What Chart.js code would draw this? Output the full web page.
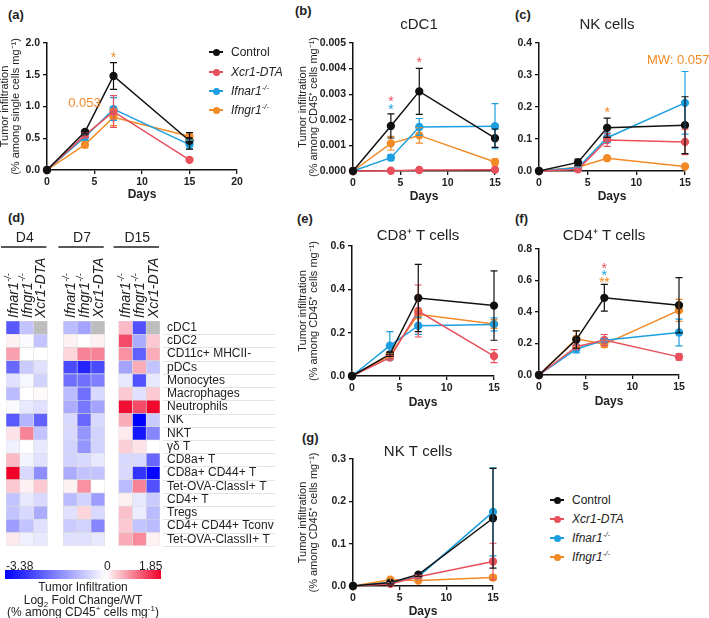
<!DOCTYPE html>
<html><head><meta charset="utf-8">
<script src="https://cdn.jsdelivr.net/npm/chart.js@4"></script>
<style>
html,body{margin:0;padding:0;width:709px;height:618px;overflow:hidden;background:#fff;font-family:"Liberation Sans",Arial,sans-serif;color:#222}
canvas{position:absolute}
.plab{position:absolute;font-weight:bold;font-size:13px;line-height:15px}
.legrow{position:absolute;height:18px;width:130px;font-size:12px;line-height:18px}
.legrow .mk{position:absolute;left:0;top:8px;width:14px;height:1.6px}
.legrow .dot{position:absolute;left:3.5px;top:5.5px;width:7px;height:7px;border-radius:50%}
.legrow .tx{position:absolute;left:22px;top:0;white-space:nowrap}
sup{font-size:8px;vertical-align:5px;line-height:0}
sub{font-size:8px;vertical-align:-3px;line-height:0}
.cb{position:absolute;font-size:12px;line-height:14px;white-space:nowrap}
</style></head><body>
<div class="plab" style="left:8px;top:7px">(a)</div>
<div class="plab" style="left:295px;top:3px">(b)</div>
<div class="plab" style="left:515px;top:7px">(c)</div>
<div class="plab" style="left:8px;top:210px">(d)</div>
<div class="plab" style="left:297px;top:211px">(e)</div>
<div class="plab" style="left:515px;top:211px">(f)</div>
<div class="plab" style="left:302px;top:430px">(g)</div>
<canvas id="ca"></canvas><canvas id="cb"></canvas><canvas id="cc"></canvas>
<canvas id="ce"></canvas><canvas id="cf"></canvas><canvas id="cg"></canvas>
<canvas id="hm"></canvas>
<div id="colorbar" style="position:absolute;left:5px;top:570px;width:156px;height:9px"></div>
<div class="cb" style="left:6px;top:559px">-3.38</div>
<div class="cb" style="left:104px;top:559px">0</div>
<div class="cb" style="left:139px;top:559px">1.85</div>
<div class="cb" style="left:0;width:166px;text-align:center;top:580px">Tumor Infiltration</div>
<div class="cb" style="left:0;width:166px;text-align:center;top:593px">Log<sub>2</sub> Fold Change/WT</div>
<div class="cb" style="left:0;width:166px;text-align:center;top:605px">(% among CD45<sup>+</sup> cells mg<sup>-1</sup>)</div>
<script>
// ---------- shared ----------
const days = [0, 4, 7, 15];
const seriesNames = ['Control', 'Xcr1-DTA', 'Ifnar1', 'Ifngr1'];
const seriesSup = ['', '', '-/-', '-/-'];
const seriesItalic = [false, true, true, true];
const seriesColors = ['#111111', '#e8505b', '#1c9fe0', '#f28a26'];

// ---------- (a) all cells ----------
const aControl = [0, 0.60, 1.48, 0.46];   const aControlSem = [0, 0.03, 0.21, 0.13];
const aXcr1 = [0, 0.55, 0.92, 0.16];      const aXcr1Sem = [0, 0.03, 0.25, 0.02];
const aIfnar1 = [0, 0.52, 0.96, 0.40];    const aIfnar1Sem = [0, 0.05, 0.18, 0.07];
const aIfngr1 = [0, 0.40, 0.83, 0.53];    const aIfngr1Sem = [0, 0.05, 0.13, 0.06];
const aTicksY = [0, 2.0, 0.5];

// ---------- (b) cDC1 ----------
const bControl = [0, 0.00176, 0.00311, 0.00128]; const bControlSem = [0, 0.00047, 0.00090, 0.00036];
const bXcr1 = [0, 0.00001, 0.00004, 0.00005];    const bXcr1Sem = [0, 0, 0.00002, 0.00002];
const bIfnar1 = [0, 0.00052, 0.00172, 0.00175];  const bIfnar1Sem = [0, 0.00012, 0.00033, 0.00088];
const bIfngr1 = [0, 0.00108, 0.00139, 0.00035];  const bIfngr1Sem = [0, 0.00027, 0.00030, 0.00012];
const bTicksY = [0, 0.005, 0.001];

// ---------- (c) NK cells ----------
const cControl = [0, 0.027, 0.135, 0.143]; const cControlSem = [0, 0.010, 0.030, 0.089];
const cXcr1 = [0, 0.005, 0.097, 0.091];    const cXcr1Sem = [0, 0.003, 0.020, 0.040];
const cIfnar1 = [0, 0.010, 0.104, 0.213];  const cIfnar1Sem = [0, 0.003, 0.015, 0.098];
const cIfngr1 = [0, 0.012, 0.040, 0.014];  const cIfngr1Sem = [0, 0.003, 0.006, 0.003];
const cTicksY = [0, 0.4, 0.1];

// ---------- (e) CD8+ T cells ----------
const eControl = [0, 0.100, 0.360, 0.325]; const eControlSem = [0, 0.010, 0.155, 0.160];
const eXcr1 = [0, 0.085, 0.300, 0.092];    const eXcr1Sem = [0, 0.010, 0.120, 0.030];
const eIfnar1 = [0, 0.140, 0.232, 0.238];  const eIfnar1Sem = [0, 0.065, 0.040, 0.030];
const eIfngr1 = [0, 0.095, 0.285, 0.240];  const eIfngr1Sem = [0, 0.010, 0.020, 0.020];
const eTicksY = [0, 0.6, 0.2];

// ---------- (f) CD4+ T cells ----------
const fControl = [0, 0.225, 0.490, 0.443]; const fControlSem = [0, 0.055, 0.085, 0.175];
const fXcr1 = [0, 0.180, 0.222, 0.115];    const fXcr1Sem = [0, 0.010, 0.035, 0.020];
const fIfnar1 = [0, 0.165, 0.220, 0.270];  const fIfnar1Sem = [0, 0.025, 0.010, 0.085];
const fIfngr1 = [0, 0.230, 0.195, 0.410];  const fIfngr1Sem = [0, 0.050, 0.020, 0.070];
const fTicksY = [0, 0.8, 0.2];

// ---------- (g) NK T cells ----------
const gControl = [0, 0.008, 0.027, 0.160]; const gControlSem = [0, 0.003, 0.004, 0.118];
const gXcr1 = [0, 0.005, 0.022, 0.058];    const gXcr1Sem = [0, 0.002, 0.003, 0.043];
const gIfnar1 = [0, 0.008, 0.022, 0.175];  const gIfnar1Sem = [0, 0.002, 0.003, 0.104];
const gIfngr1 = [0, 0.015, 0.013, 0.020];  const gIfngr1Sem = [0, 0.005, 0.003, 0.005];
const gTicksY = [0, 0.3, 0.1];

// significance annotations: series index, day, value, text
const aNotes = [{s: 3, x: 7, y: 1.81, t: '*'}, {s: 3, x: 3.95, y: 1.055, t: '0.053'}];
const bNotes = [{s: 1, x: 4, y: 0.00281, t: '*'}, {s: 2, x: 4, y: 0.00250, t: '*'}, {s: 1, x: 7, y: 0.00434, t: '*'}];
const cNotes = [{s: 3, x: 7, y: 0.19, t: '*'}, {s: 3, x: 14.3, y: 0.344, t: 'MW: 0.057'}];
const fNotes = [{s: 1, x: 7, y: 0.692, t: '*'}, {s: 2, x: 7, y: 0.648, t: '*'}, {s: 3, x: 7, y: 0.603, t: '**'}];

// ---------- (d) heatmap: log2 fold change / WT ----------
const heatRows = ['cDC1', 'cDC2', 'CD11c+ MHCII-', 'pDCs', 'Monocytes', 'Macrophages', 'Neutrophils', 'NK', 'NKT', 'γδ T',
  'CD8a+ T', 'CD8a+ CD44+ T', 'Tet-OVA-ClassI+ T', 'CD4+ T', 'Tregs', 'CD4+ CD44+ Tconv', 'Tet-OVA-ClassII+ T'];
const heatDays = ['D4', 'D7', 'D15'];
const heatColNames = ['Ifnar1', 'Ifngr1', 'Xcr1-DTA'];
const heatColSup = ['-/-', '-/-', ''];
const heatMin = -3.38, heatMax = 1.85;
const hmD4Ifnar1 = [-2.2, 0.1, 0.7, -2.0, -0.4, -0.9, -0.05, -2.2, 0.2, -0.2, 0.5, 1.85, 0.4, -0.8, -0.8, -1.3, 0.15];
const hmD4Ifngr1 = [-0.8, -0.05, 0.0, -0.7, -0.1, 0.0, -0.3, -1.0, 0.9, 0.0, -0.15, -0.5, 0.1, -0.3, -0.5, -0.8, -0.2];
const hmD4Xcr1 = [null, -0.8, 0.0, -0.4, -0.6, 0.05, -0.4, -2.1, -0.8, -0.3, -0.4, -1.5, 0.4, -0.5, -1.1, -0.4, -0.3];
const hmD7Ifnar1 = [-0.9, 0.1, 0.3, -2.4, -1.9, -0.9, -1.1, -0.5, -0.5, -0.6, -0.6, -1.1, 0.1, -0.9, -0.4, -0.7, -0.4];
const hmD7Ifngr1 = [-1.2, 0.0, 0.9, -2.9, -1.9, -1.9, -1.8, -2.0, -1.4, -1.4, -0.5, -0.8, 0.8, -0.6, 0.3, -0.6, -0.4];
const hmD7Xcr1 = [null, 0.1, 0.9, -2.4, -1.7, -0.5, -1.2, -0.5, -0.6, -0.6, -0.3, -0.8, 0.0, -1.3, -0.5, -1.6, -0.3];
const hmD15Ifnar1 = [0.5, 1.3, 0.8, -1.2, -0.3, 0.4, 1.75, 0.6, 0.15, 0.35, -0.5, -0.5, -0.9, 0.1, 0.45, 0.4, 0.6];
const hmD15Ifngr1 = [-2.3, -1.1, -2.1, 0.6, -2.3, -0.4, 1.3, -3.38, -3.1, 0.2, -0.5, -2.7, 0.9, -0.3, -0.25, -0.8, 0.85];
const hmD15Xcr1 = [null, 0.4, 0.6, -0.8, -0.3, 0.4, 1.8, -0.7, -1.6, 0.0, -2.0, -3.3, -2.3, -0.7, -0.9, -0.9, 0.1];
const heatColumns = [hmD4Ifnar1, hmD4Ifngr1, hmD4Xcr1, hmD7Ifnar1, hmD7Ifngr1, hmD7Xcr1, hmD15Ifnar1, hmD15Ifngr1, hmD15Xcr1];

// ---------- drawing ----------
const FONT = '"Liberation Sans", Arial, sans-serif';
Chart.defaults.font.family = FONT;
Chart.defaults.color = '#222';

const errorBarPlugin = {
  id: 'errorBars',
  afterDatasetsDraw(chart) {
    const {ctx, scales: {x, y}} = chart;
    const dss = chart.data.datasets;
    for (let i = dss.length - 1; i >= 0; i--) {
      const ds = dss[i];
      if (!ds.sem) continue;
      ctx.save();
      ctx.strokeStyle = ds.borderColor; ctx.lineWidth = 1.2;
      ds.data.forEach((p, j) => {
        const e = ds.sem[j]; if (!e) return;
        const px = x.getPixelForValue(p.x);
        const top = y.getPixelForValue(p.y + e), bot = y.getPixelForValue(Math.max(0, p.y - e));
        ctx.beginPath();
        ctx.moveTo(px, top); ctx.lineTo(px, bot);
        ctx.moveTo(px - 3.5, top); ctx.lineTo(px + 3.5, top);
        ctx.moveTo(px - 3.5, bot); ctx.lineTo(px + 3.5, bot);
        ctx.stroke();
      });
      ctx.restore();
    }
  }
};

const notesPlugin = {
  id: 'notes',
  afterDraw(chart, args, opts) {
    const {ctx, chartArea: a, scales: {x, y}} = chart;
    ctx.save();
    ctx.textAlign = 'center'; ctx.textBaseline = 'middle';
    if (opts.title) {
      ctx.font = '15px ' + FONT; ctx.fillStyle = '#222';
      ctx.fillText(opts.title, (a.left + a.right) / 2 - 5, a.top - opts.titleDy);
    }
    (opts.items || []).forEach(n => {
      const star = /^\*+$/.test(n.t);
      ctx.font = (star ? '14px ' : '13px ') + FONT;
      ctx.fillStyle = seriesColors[n.s];
      ctx.fillText(n.t, x.getPixelForValue(n.x), y.getPixelForValue(n.y) + (star ? 3 : 0));
    });
    ctx.restore();
  }
};

function lineChart(id, box, area, cfg) {
  const cv = document.getElementById(id);
  cv.style.left = box.l + 'px'; cv.style.top = box.t + 'px';
  cv.width = box.w; cv.height = box.h;
  const datasets = cfg.series.map((s, i) => ({
    label: seriesNames[i],
    data: days.map((d, j) => ({x: d, y: s[0][j]})),
    sem: s[1],
    borderColor: seriesColors[i], backgroundColor: seriesColors[i],
    pointBackgroundColor: seriesColors[i], pointBorderColor: seriesColors[i],
    borderWidth: 1.5, pointRadius: 3.4, pointHoverRadius: 3.4, clip: false, tension: 0
  }));
  const axisGrid = {drawOnChartArea: false, drawTicks: true, tickLength: 4, color: '#111', lineWidth: 1.3};
  const axisBorder = {display: true, color: '#111', width: 1.5};
  new Chart(cv, {
    type: 'line',
    data: {datasets},
    options: {
      responsive: false, animation: false, events: [],
      layout: {padding: {left: 0, top: area.y0 - box.t, right: box.l + box.w - area.x1, bottom: 0}},
      plugins: {legend: {display: false}, tooltip: {enabled: false},
        notes: {title: cfg.title, titleDy: cfg.titleDy, items: cfg.notes}},
      scales: {
        x: {type: 'linear', min: 0, max: cfg.xMax,
          afterFit: s => { s.height = box.t + box.h - area.y1; },
          ticks: {stepSize: 5, maxRotation: 0, padding: 2, color: '#222', font: {size: 10.5, weight: 'bold'}},
          grid: axisGrid, border: axisBorder,
          title: {display: true, text: 'Days', color: '#222', padding: 0, font: {size: 12, weight: 'bold', lineHeight: 1}}},
        y: {type: 'linear', min: cfg.yTicks[0], max: cfg.yTicks[1],
          afterFit: s => { s.width = area.x0 - box.l; },
          ticks: {stepSize: cfg.yTicks[2], padding: 3, color: '#222', font: {size: 10.5, weight: 'bold'},
            callback: v => v.toFixed(cfg.dec)},
          grid: axisGrid, border: axisBorder,
          title: cfg.yTitle ? {display: true, text: cfg.yTitle, color: '#222', padding: 0, font: {size: 11, lineHeight: 0.95}} : {display: false}}
      }
    },
    plugins: [errorBarPlugin, notesPlugin]
  });
}

const yTitleCD45 = ['Tumor infiltration', '(% among CD45\u207A cells mg\u207B\u00B9)'];

lineChart('ca', {l: 0, t: 5, w: 250, h: 196}, {x0: 47, y0: 43, x1: 237, y1: 170}, {
  series: [[aControl, aControlSem], [aXcr1, aXcr1Sem], [aIfnar1, aIfnar1Sem], [aIfngr1, aIfngr1Sem]],
  xMax: 20, yTicks: aTicksY, dec: 1, yTitle: ['Tumor infiltration', '(% among single cells mg\u207B\u00B9)'], notes: aNotes});
lineChart('cb', {l: 298, t: 5, w: 207, h: 198}, {x0: 353, y0: 43, x1: 495, y1: 171}, {
  series: [[bControl, bControlSem], [bXcr1, bXcr1Sem], [bIfnar1, bIfnar1Sem], [bIfngr1, bIfngr1Sem]],
  xMax: 15, yTicks: bTicksY, dec: 3, yTitle: yTitleCD45, notes: bNotes, title: 'cDC1', titleDy: 18});
lineChart('cc', {l: 505, t: 5, w: 204, h: 198}, {x0: 539, y0: 43, x1: 685, y1: 171}, {
  series: [[cControl, cControlSem], [cXcr1, cXcr1Sem], [cIfnar1, cIfnar1Sem], [cIfngr1, cIfngr1Sem]],
  xMax: 15, yTicks: cTicksY, dec: 1, notes: cNotes, title: 'NK cells', titleDy: 18});
lineChart('ce', {l: 298, t: 215, w: 207, h: 194}, {x0: 352, y0: 246, x1: 494, y1: 376}, {
  series: [[eControl, eControlSem], [eXcr1, eXcr1Sem], [eIfnar1, eIfnar1Sem], [eIfngr1, eIfngr1Sem]],
  xMax: 15, yTicks: eTicksY, dec: 1, yTitle: yTitleCD45, notes: [], title: 'CD8\u207A T cells', titleDy: 10});
lineChart('cf', {l: 505, t: 215, w: 204, h: 193}, {x0: 539, y0: 249, x1: 679, y1: 375}, {
  series: [[fControl, fControlSem], [fXcr1, fXcr1Sem], [fIfnar1, fIfnar1Sem], [fIfngr1, fIfngr1Sem]],
  xMax: 15, yTicks: fTicksY, dec: 1, notes: fNotes, title: 'CD4\u207A T cells', titleDy: 13});
lineChart('cg', {l: 298, t: 430, w: 207, h: 188}, {x0: 353, y0: 459, x1: 493, y1: 586}, {
  series: [[gControl, gControlSem], [gXcr1, gXcr1Sem], [gIfnar1, gIfnar1Sem], [gIfngr1, gIfngr1Sem]],
  xMax: 15, yTicks: gTicksY, dec: 1, yTitle: yTitleCD45, notes: [], title: 'NK T cells', titleDy: 7});

// ---------- legends ----------
function buildLegend(left, centers) {
  seriesNames.forEach((n, i) => {
    const row = document.createElement('div');
    row.className = 'legrow';
    row.style.left = left + 'px'; row.style.top = (centers[i] - 9) + 'px';
    const txt = (seriesItalic[i] ? '<i>' + n + '</i>' : n) + (seriesSup[i] ? '<sup><i>' + seriesSup[i] + '</i></sup>' : '');
    row.innerHTML = '<span class="mk" style="background:' + seriesColors[i] + '"></span><span class="dot" style="background:' +
      seriesColors[i] + '"></span><span class="tx">' + txt + '</span>';
    document.body.appendChild(row);
  });
}
buildLegend(209, [52, 72, 91, 110]);
buildLegend(550, [500, 519, 538, 557]);

// ---------- heatmap ----------
function heatColor(v) {
  if (v === null) return '#bdbdbd';
  if (v < 0) { const t = Math.min(1, v / heatMin); const c = Math.round(255 * (1 - t)); return `rgb(${c},${c},255)`; }
  const t = Math.min(1, v / heatMax); const c = Math.round(255 * (1 - t));
  return `rgb(${Math.round(255 - 15 * t)},${c},${Math.round(255 - 215 * t)})`;
}
document.getElementById('colorbar').style.background =
  'linear-gradient(to right, rgb(0,0,255), #ffffff ' + (100 * -heatMin / (heatMax - heatMin)).toFixed(1) + '%, rgb(240,0,40))';

const heatGapWidths = [1.15, 1.0];
const heatDatasets = [];
heatColumns.forEach((vals, k) => {
  heatDatasets.push({data: heatRows.map(() => 1), backgroundColor: vals.map(heatColor), isCell: true, colIdx: k,
    borderWidth: 0.6, borderColor: 'rgba(215,215,215,0.8)', borderSkipped: false});
  if (k % 3 === 2 && k < 8) {
    heatDatasets.push({data: heatRows.map(() => heatGapWidths[(k - 2) / 3]), backgroundColor: 'rgba(0,0,0,0)', borderWidth: 0});
  }
});
const heatTotal = 9 + heatGapWidths[0] + heatGapWidths[1];

const heatDecor = {
  id: 'heatDecor',
  afterDraw(chart) {
    const {ctx, chartArea: a, scales: {y}} = chart;
    const rowH = (a.bottom - a.top) / heatRows.length;
    ctx.save();
    ctx.strokeStyle = '#e4e4e4'; ctx.lineWidth = 1;
    for (let i = 0; i < heatRows.length; i++) {
      const yy = Math.round(y.getPixelForValue(i) + rowH / 2) + 0.5;
      ctx.beginPath(); ctx.moveTo(a.right + 3, yy); ctx.lineTo(a.right + 115, yy); ctx.stroke();
    }
    const cols = [];
    chart.data.datasets.forEach((ds, i) => {
      if (!ds.isCell) return;
      const p = chart.getDatasetMeta(i).data[0].getProps(['x', 'base'], true);
      cols.push({c: (p.x + p.base) / 2, l: Math.min(p.x, p.base), r: Math.max(p.x, p.base), k: ds.colIdx});
    });
    // rotated column labels
    ctx.fillStyle = '#222';
    cols.forEach(col => {
      const j = col.k % 3;
      ctx.save();
      ctx.translate(col.c + 1, a.top - 3);
      ctx.rotate(-Math.PI / 2);
      ctx.textAlign = 'left'; ctx.textBaseline = 'middle';
      ctx.font = 'italic 14px ' + FONT;
      ctx.fillText(heatColNames[j], 0, 0);
      if (heatColSup[j]) {
        const w = ctx.measureText(heatColNames[j]).width;
        ctx.font = 'italic 9px ' + FONT;
        ctx.fillText(heatColSup[j], w + 0.5, -5);
      }
      ctx.restore();
    });
    // day headers
    heatDays.forEach((d, g) => {
      const l = cols[g * 3].l, r = cols[g * 3 + 2].r;
      ctx.font = '14px ' + FONT; ctx.textAlign = 'center'; ctx.textBaseline = 'middle';
      ctx.fillText(d, (l + r) / 2 - 2, a.top - 83);
      ctx.strokeStyle = '#222'; ctx.lineWidth = 1.3;
      ctx.beginPath(); ctx.moveTo(l - 5, a.top - 74); ctx.lineTo(r - 1, a.top - 74); ctx.stroke();
    });
    ctx.restore();
  }
};

(function () {
  const box = {l: 0, t: 225, w: 290, h: 335};
  const cv = document.getElementById('hm');
  cv.style.left = box.l + 'px'; cv.style.top = box.t + 'px';
  cv.width = box.w; cv.height = box.h;
  new Chart(cv, {
    type: 'bar',
    data: {labels: heatRows, datasets: heatDatasets},
    options: {
      indexAxis: 'y', responsive: false, animation: false, events: [],
      layout: {padding: {left: 6, top: 321 - box.t, right: 0, bottom: box.t + box.h - 558}},
      datasets: {bar: {barPercentage: 1, categoryPercentage: 1}},
      plugins: {legend: {display: false}, tooltip: {enabled: false}},
      scales: {
        x: {type: 'linear', stacked: true, min: 0, max: heatTotal, display: false},
        y: {stacked: true, position: 'right', afterFit: s => { s.width = box.l + box.w - 160; },
          grid: {display: false, drawTicks: false}, border: {display: false},
          ticks: {autoSkip: false, padding: 7, color: '#222', font: {size: 12}}}
      }
    },
    plugins: [heatDecor]
  });
})();
</script>
</body></html>
